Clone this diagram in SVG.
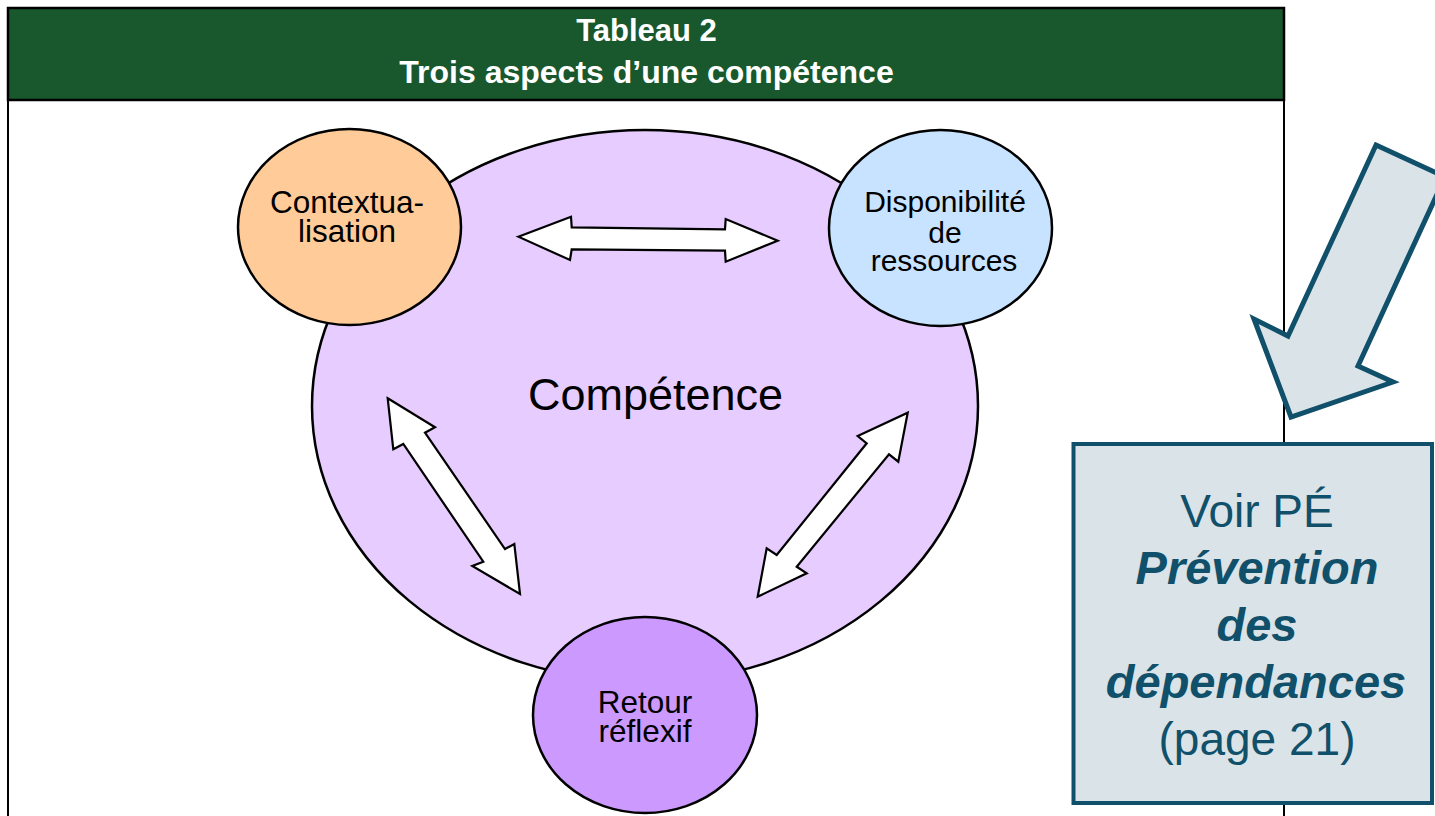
<svg xmlns="http://www.w3.org/2000/svg" width="1435" height="816" viewBox="0 0 1435 816">
<style>
.node{stroke:#000;stroke-width:2.5}
.lbl{font-family:"Liberation Sans",Arial,sans-serif;fill:#000;text-anchor:middle}
.dbl{fill:#fff;stroke:#000;stroke-width:2.2;stroke-linejoin:miter}
.title{font-family:"Liberation Sans",Arial,sans-serif;font-weight:bold;fill:#fff;font-size:31px;text-anchor:middle}
.title2{font-size:32px}
.note{font-family:"Liberation Sans",Arial,sans-serif;fill:#10506A;font-size:46px;text-anchor:middle}
.em{font-weight:bold;font-style:italic;font-size:47px}
</style>
<rect x="0" y="0" width="1435" height="816" fill="#fff"/>
<g id="frame">
<rect x="8" y="8" width="1276" height="830" fill="#fff" stroke="#000" stroke-width="2"/>
<rect x="8" y="8" width="1276" height="92" fill="#19572D" stroke="#000" stroke-width="2.5"/>
<text class="title" x="646.5" y="41">Tableau 2</text>
<text class="title title2" x="646.5" y="83">Trois aspects d’une compétence</text>
</g>
<g id="competence">
<ellipse class="node" cx="645" cy="406" rx="333" ry="276" fill="#E6CCFF"/>
<text class="lbl" x="655.5" y="410" font-size="45">Compétence</text>
</g>
<g id="contextualisation">
<ellipse class="node" cx="349.5" cy="227" rx="111.5" ry="98" fill="#FFCC99"/>
<text class="lbl" x="347" y="213" font-size="31.5">Contextua-</text>
<text class="lbl" x="347" y="242" font-size="31.5">lisation</text>
</g>
<g id="disponibilite">
<ellipse class="node" cx="940.5" cy="228" rx="111.5" ry="98" fill="#C8E3FF"/>
<text class="lbl" x="945" y="212" font-size="30">Disponibilité</text>
<text class="lbl" x="945" y="243" font-size="30">de</text>
<text class="lbl" x="944" y="271" font-size="30">ressources</text>
</g>
<g id="retour">
<ellipse class="node" cx="645" cy="715" rx="112" ry="98" fill="#CC99FF"/>
<text class="lbl" x="645" y="713" font-size="31.5">Retour</text>
<text class="lbl" x="645" y="742" font-size="31.5">réflexif</text>
</g>
<g id="connectors">
<polygon class="dbl" points="518.3,236.7 571,216.7 571.7,227.3 725,229.3 725.7,219 777.7,240.7 725.7,261.7 725,250.7 571.7,249.3 570,260"/>
<polygon class="dbl" points="387.7,398.3 435,427.3 425,432.7 505,549 514.3,544 520,594 472.3,566 483.3,561.7 403.3,444 393.3,449.3"/>
<polygon class="dbl" points="907.7,412.7 898.3,461.7 889,454.3 796.7,566.7 806.7,573.3 757.7,596.7 766.7,548.3 776.7,555 866.7,443.3 857.7,436"/>
</g>
<g id="pointer">
<polygon points="1376,145 1445,177 1358,366 1393,382 1291,417 1254,319 1288,336" fill="#DAE3E7" stroke="#10506A" stroke-width="5" stroke-linejoin="miter"/>
</g>
<g id="note">
<rect x="1073.5" y="444" width="358.5" height="359" fill="#DAE3E7" stroke="#10506A" stroke-width="4"/>
<text class="note" x="1257" y="527">Voir PÉ</text>
<text class="note em" x="1257" y="584">Prévention</text>
<text class="note em" x="1257" y="641">des</text>
<text class="note em" x="1256" y="698">dépendances</text>
<text class="note" x="1257" y="755">(page 21)</text>
</g>
</svg>
